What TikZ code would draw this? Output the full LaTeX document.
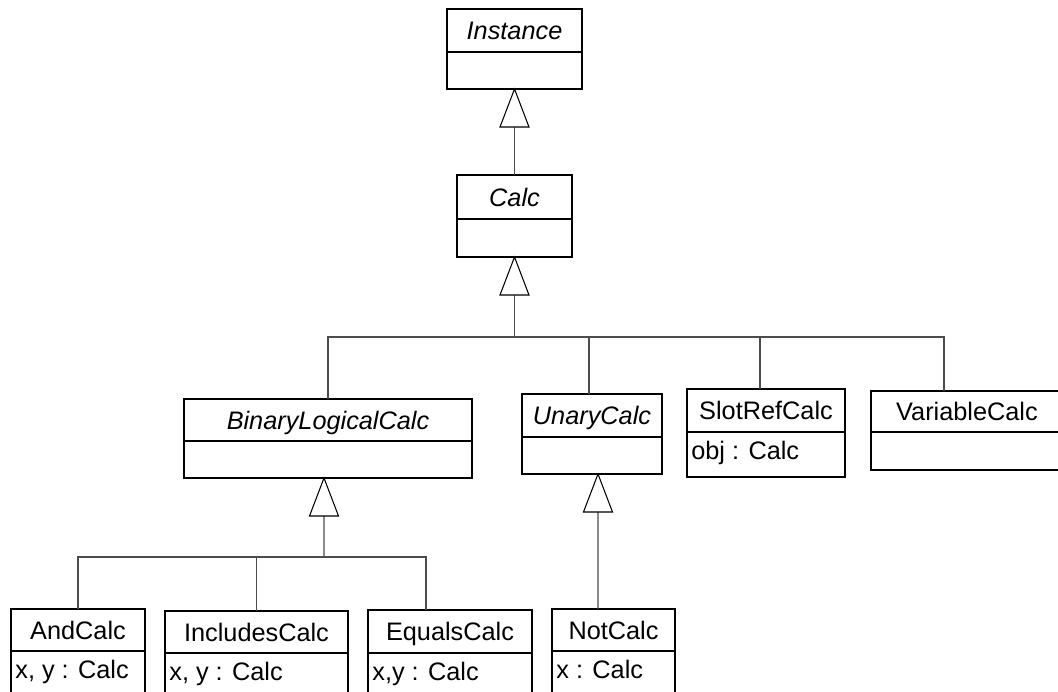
\documentclass[tikz,border=0pt]{standalone}
\usepackage{fontspec}
\setmainfont{Liberation Sans}
\newcommand\umlbox[8]{%
  \node[box, minimum width={(#4-(#2))*0.02cm}, minimum height={(#6-(#3))*0.02cm}] (#1) at ({(#2+#4)/2},{(#3+#6)/2}) {};
  \node[ttl] (#1-t) at ({(#2+#4)/2},{(#3+#5)/2}) {#7};
  \draw[boxline] (#2,#5) -- (#4,#5);
  \node[attr] (#1-a) at (#2+4,#5+18) {#8};
}
\newcommand\gentri[1]{\draw[tri] (#1) -- ++(-14.5,38) -- ++(29,0) -- cycle;}
\begin{document}
\begin{tikzpicture}[x=0.02cm,y=-0.02cm,
  box/.style={draw=black, line width=0.6pt, inner sep=0pt, outer sep=0pt, rectangle},
  boxline/.style={draw=black, line width=0.6pt},
  conn/.style={draw=black!70, line width=0.6pt},
  tri/.style={draw=black, line width=0.6pt, fill=white},
  ttl/.style={font=\fontsize{14.4}{16}\selectfont, inner sep=0pt, text height=10.3pt, text depth=0pt},
  attr/.style={font=\fontsize{14.4}{16}\selectfont, inner sep=0pt, text height=10.3pt, text depth=0pt, anchor=west}]
\useasboundingbox (0,0) rectangle (1058,691);
\clip (0,0) rectangle (1058,691);

\umlbox{inst}{447}{9}{582}{52}{89}{\itshape Instance}{}
\umlbox{calc}{457}{175}{572}{219}{257}{\itshape Calc}{}
\umlbox{bin}{184}{399}{472}{441}{478}{\itshape BinaryLogicalCalc}{}
\umlbox{un}{522}{394}{662}{437}{474}{\itshape UnaryCalc}{}
\umlbox{slot}{687}{389}{845}{432}{477}{SlotRefCalc}{obj : Calc}
\umlbox{var}{871}{391}{1063}{432}{470}{VariableCalc}{}
\umlbox{and}{11}{609}{145}{651}{720}{AndCalc}{x, y : Calc}
\umlbox{inc}{165}{611}{348}{653}{720}{IncludesCalc}{x, y : Calc}
\umlbox{eq}{368}{610}{532}{653}{720}{EqualsCalc}{x,y : Calc}
\umlbox{not}{552}{609}{675}{651}{720}{NotCalc}{x : Calc}

% Instance <- Calc
\coordinate (inst-apex) at (inst.south);
\draw[conn] (inst-apex) ++(0,38) -- (calc.north);
\gentri{inst-apex}

% Calc <- first level
\coordinate (calc-apex) at (calc.south);
\coordinate (bar) at (514.5,337);
\draw[conn] (calc-apex) ++(0,38) -- (bar);
\draw[conn] (bin.north) |- (bar) -| ([xshift=-0.46cm]var.north);
\draw[conn] (bar) -| ([xshift=-0.06cm]un.north);
\draw[conn] (bar) -| ([xshift=-0.12cm]slot.north);
\gentri{calc-apex}

% BinaryLogicalCalc <- And, Includes, Equals
\coordinate (bin-apex) at ([xshift=-0.08cm]bin.south);
\coordinate (bar2) at (324,557);
\draw[conn] (bin-apex) ++(0,38) -- (bar2);
\draw[conn] (and.north) |- (bar2) -| ([xshift=-0.48cm]eq.north);
\draw[conn] (bar2) -| (inc.north);
\gentri{bin-apex}

% UnaryCalc <- NotCalc
\coordinate (un-apex) at ([xshift=0.12cm]un.south);
\draw[conn] (un-apex) ++(0,38) -- ([xshift=-0.31cm]not.north);
\gentri{un-apex}
\end{tikzpicture}
\end{document}
